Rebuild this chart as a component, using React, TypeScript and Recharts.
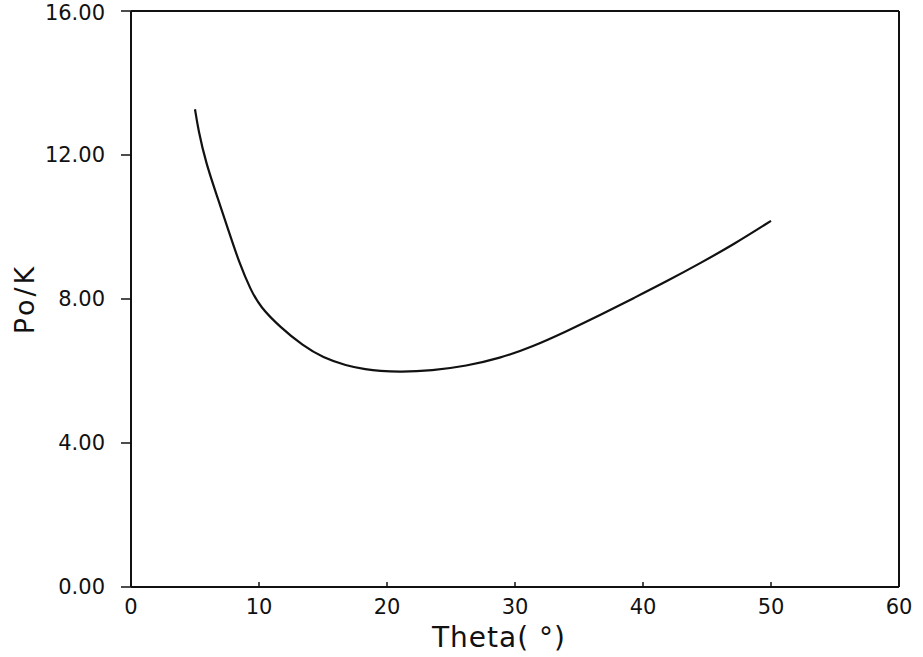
import { CartesianGrid, Label, Line, LineChart, ReferenceLine, XAxis, YAxis } from "recharts";

// Theta (deg) and Po/K
const theta = [
  5.0, 5.25, 5.85, 6.73, 7.6, 8.47, 9.35, 10.1, 11.65, 13.44, 15.0, 16.8, 18.4,
  19.4, 21.0, 23.5, 26.2, 28.8, 31.4, 34.0, 36.7, 39.3, 41.9, 44.5, 47.1, 50.0,
];
const poK = [
  13.27, 12.71, 11.78, 10.85, 9.92, 8.99, 8.25, 7.78, 7.22, 6.7, 6.37, 6.15, 6.04,
  6.0, 5.97, 6.01, 6.14, 6.35, 6.68, 7.1, 7.56, 8.03, 8.5, 9.0, 9.52, 10.17,
];
const xTicks = [0, 10, 20, 30, 40, 50, 60];
const yTicks = [0, 4, 8, 12, 16];

const data = theta.map((t, i) => ({ theta: t, po: poK[i] }));

const FONT = "DejaVu Sans";
const INK = "#111";

export default function App() {
  return (
    <div style={{ position: "absolute", left: 0, top: 0, background: "#fff" }}>
      <LineChart
        width={923}
        height={657}
        data={data}
        margin={{ top: 11, right: 24, left: 0, bottom: 0 }}
        style={{ fontFamily: FONT }}
      >
        <CartesianGrid stroke="none" />
        <XAxis
          dataKey="theta"
          type="number"
          domain={[0, 60]}
          ticks={xTicks}
          height={70}
          tickSize={-5}
          tickMargin={17}
          axisLine={{ stroke: INK, strokeWidth: 2 }}
          tickLine={{ stroke: INK, strokeWidth: 1.5 }}
          tick={{ fill: INK, fontSize: 21, fontFamily: FONT }}
        >
          <Label
            value="Theta( °)"
            position="insideBottom"
            offset={10}
            dx={-16}
            style={{ fill: INK, fontSize: 28, fontFamily: FONT, letterSpacing: 1 }}
          />
        </XAxis>
        <YAxis
          type="number"
          domain={[0, 16]}
          ticks={yTicks}
          width={131}
          tickSize={10}
          tickMargin={16}
          tickFormatter={(v) => Number(v).toFixed(2)}
          axisLine={{ stroke: INK, strokeWidth: 2 }}
          tickLine={{ stroke: INK, strokeWidth: 1.5 }}
          tick={{ fill: INK, fontSize: 21, fontFamily: FONT }}
        >
          <Label
            value="Po/K"
            angle={-90}
            position="insideLeft"
            offset={24}
            style={{ fill: INK, fontSize: 27, fontFamily: FONT, letterSpacing: 3, textAnchor: "middle" }}
          />
        </YAxis>
        <ReferenceLine y={16} stroke={INK} strokeWidth={2} />
        <ReferenceLine x={60} stroke={INK} strokeWidth={2} />
        <Line
          type="basis"
          dataKey="po"
          stroke={INK}
          strokeWidth={2.2}
          dot={false}
          isAnimationActive={false}
        />
      </LineChart>
    </div>
  );
}
